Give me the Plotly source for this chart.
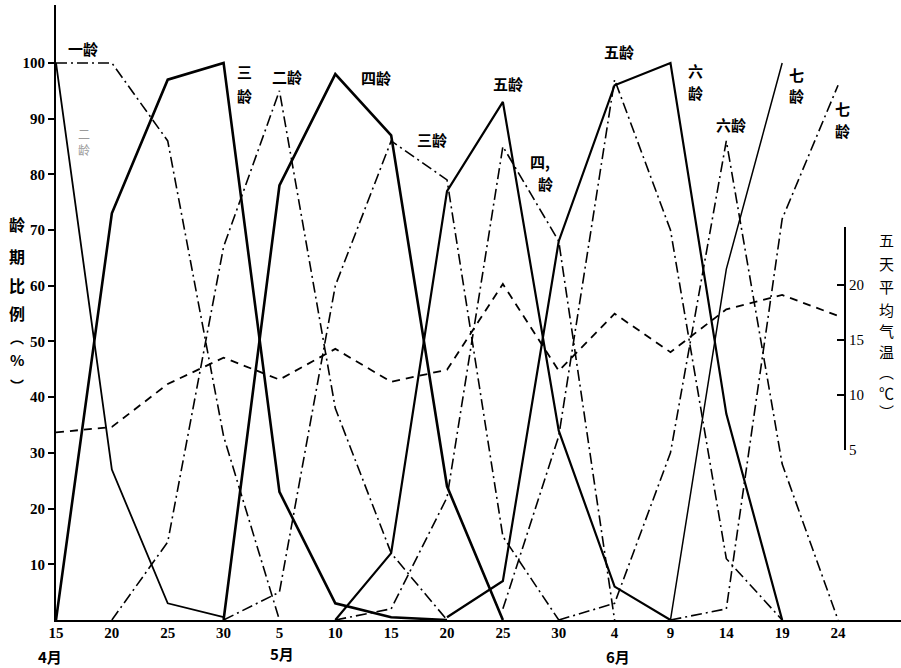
import plotly.graph_objects as go

# ---- data ----
date_labels = ["15", "20", "25", "30", "5", "10", "15", "20", "25", "30", "4", "9", "14", "19", "24"]
idx = list(range(len(date_labels)))

# five-day mean air temperature (°C)
temperature = [6.6, 7.1, 11.0, 13.4, 11.4, 14.2, 11.2, 12.3, 20.1, 12.2, 17.4, 13.9, 17.8, 19.1, 17.2]

N = None
# dash-dot group (instar 1-7), percentage
d1 = [100, 100, 86, 33, 0, N, N, N, N, N, N, N, N, N, N]
d2 = [N, 0, 14, 67, 95, 38, 12, 0, N, N, N, N, N, N, N]
d3 = [N, N, N, 0, 5, 60, 86, 79, 15, 0, N, N, N, N, N]
d4 = [N, N, N, N, N, 0, 2, 22, 85, 68, 0, N, N, N, N]
d5 = [N, N, N, N, N, N, N, N, 2, 33, 97, 70, 11, 0, N]
d6 = [N, N, N, N, N, N, N, N, N, 0, 3, 30, 86, 28, 0]
d7 = [N, N, N, N, N, N, N, N, N, N, N, 0, 2, 72, 96]
# solid group (instar 2-7), percentage
s2 = [100, 27, 3, 0.5, N, N, N, N, N, N, N, N, N, N, N]
s3 = [0, 73, 97, 100, 23, 3, 0.5, 0, N, N, N, N, N, N, N]
s4 = [N, N, N, 0, 78, 98, 87, 24, 0, N, N, N, N, N, N]
s5 = [N, N, N, N, N, 0, 12, 77, 93, 34, 6, 0, N, N, N]
s6 = [N, N, N, N, N, N, N, 0.5, 7, 68, 96, 100, 37, 0, N]
s7 = [N, N, N, N, N, N, N, N, N, N, N, 0, 63, 100, N]

dash_series = [d1, d2, d3, d4, d5, d6, d7]
solid_series = [s2, s3, s4, s5, s6, s7]
solid_widths = [1.8, 2.6, 2.6, 2.2, 2.2, 1.5]

month_labels = ["4月", "5月", "6月"]
left_title = ["龄", "期", "比", "例", "︵", "%", "︶"]
right_title = ["五", "天", "平", "均", "气", "温", "︵", "℃", "︶"]

fig = go.Figure()

def pts(series):
    xs = [i for i, v in zip(idx, series) if v is not None]
    ys = [v for v in series if v is not None]
    return xs, ys

for s in dash_series:
    xs, ys = pts(s)
    fig.add_trace(go.Scatter(x=xs, y=ys, mode="lines",
                             line=dict(color="black", width=1.6, dash="11px,4px,2px,4px")))
for s, w in zip(solid_series, solid_widths):
    xs, ys = pts(s)
    fig.add_trace(go.Scatter(x=xs, y=ys, mode="lines",
                             line=dict(color="black", width=w)))

fig.add_trace(go.Scatter(x=idx, y=temperature, mode="lines", yaxis="y2",
                         line=dict(color="black", width=1.8, dash="8px,6px")))

serif = "Liberation Serif"
cjk = "Noto Sans CJK SC"

fig.update_layout(
    width=901, height=668,
    margin=dict(l=56, r=0, t=5, b=48),
    paper_bgcolor="white", plot_bgcolor="rgba(0,0,0,0)",
    showlegend=False,
    xaxis=dict(range=[0, 15.127], tickvals=idx, ticktext=date_labels,
               showline=True, linewidth=2, linecolor="black", ticks="",
               showgrid=False, zeroline=False, ticklabelstandoff=-2, automargin=False,
               tickfont=dict(family=serif, size=15, color="black", weight="bold")),
    yaxis=dict(range=[0, 110.4], tickvals=list(range(10, 101, 10)),
               showline=True, linewidth=2, linecolor="black", automargin=False,
               ticks="outside", ticklen=6, tickwidth=1.5, tickcolor="black",
               showgrid=False, zeroline=False,
               tickfont=dict(family=serif, size=15, color="black", weight="bold")),
    yaxis2=dict(domain=[0.2764, 0.639], range=[5, 25.28], anchor="free",
                position=0.9337, side="right", showline=True, linewidth=1.8,
                linecolor="black", ticks="inside", ticklen=7, tickwidth=1.5,
                tickcolor="black", tickvals=[5, 10, 15, 20], automargin=False,
                showgrid=False, zeroline=False,
                tickfont=dict(family=serif, size=15, color="black")),
)

def px2x(px):
    return (px - 56) / 845

def px2y(py):
    return (620 - py) / 615

# instar labels: (text, pixel x centre, pixel y centre)
labels = [
    ("一龄", 83, 48), ("三", 244, 72), ("龄", 244, 95), ("二龄", 287, 76),
    ("四龄", 376, 77), ("三龄", 432, 140), ("五龄", 508, 84),
    ("四,", 540, 162), ("龄", 545, 184), ("五龄", 619, 52),
    ("六", 695, 70), ("龄", 695, 92), ("六龄", 731, 125),
    ("七", 796, 74), ("龄", 796, 96), ("七", 842, 109), ("龄", 842, 131),
]
for text, px, py in labels:
    fig.add_annotation(x=px2x(px), y=px2y(py), xref="paper", yref="paper", text=text,
                       showarrow=False, xanchor="center", yanchor="middle",
                       font=dict(family=cjk, size=15, color="black", weight="bold"))
for text, py in [("二", 133), ("龄", 150)]:
    fig.add_annotation(x=px2x(84), y=px2y(py), xref="paper", yref="paper", text=text,
                       showarrow=False, xanchor="center", yanchor="middle",
                       font=dict(family=cjk, size=12, color="#9a9a9a"))

# month labels
for text, px, py in zip(month_labels, [50, 282, 618], [656, 654, 656]):
    fig.add_annotation(x=px2x(px), y=px2y(py), xref="paper", yref="paper",
                       text=text, showarrow=False, xanchor="center", yanchor="middle",
                       font=dict(family=cjk, size=15, color="black", weight="bold"))

# axis titles, one character each (vertical text)
for ch, py, fs in zip(left_title, [224, 256, 285, 313, 337, 359, 385],
                      [16, 16, 16, 16, 14, 15, 14]):
    fig.add_annotation(x=px2x(17), y=px2y(py), xref="paper", yref="paper",
                       text=ch, showarrow=False, xanchor="center", yanchor="middle",
                       font=dict(family=cjk, size=fs, color="black", weight="bold"))
for ch, py in zip(right_title, [240, 263, 286, 309, 330, 351, 372, 392, 411]):
    fig.add_annotation(x=px2x(886), y=px2y(py), xref="paper", yref="paper",
                       text=ch, showarrow=False, xanchor="center", yanchor="middle",
                       font=dict(family=cjk, size=15, color="black"))

fig.write_html("out.html", config={"displayModeBar": False},
               post_script="document.body.style.margin='0px';"
                           "document.body.style.overflow='hidden';")
